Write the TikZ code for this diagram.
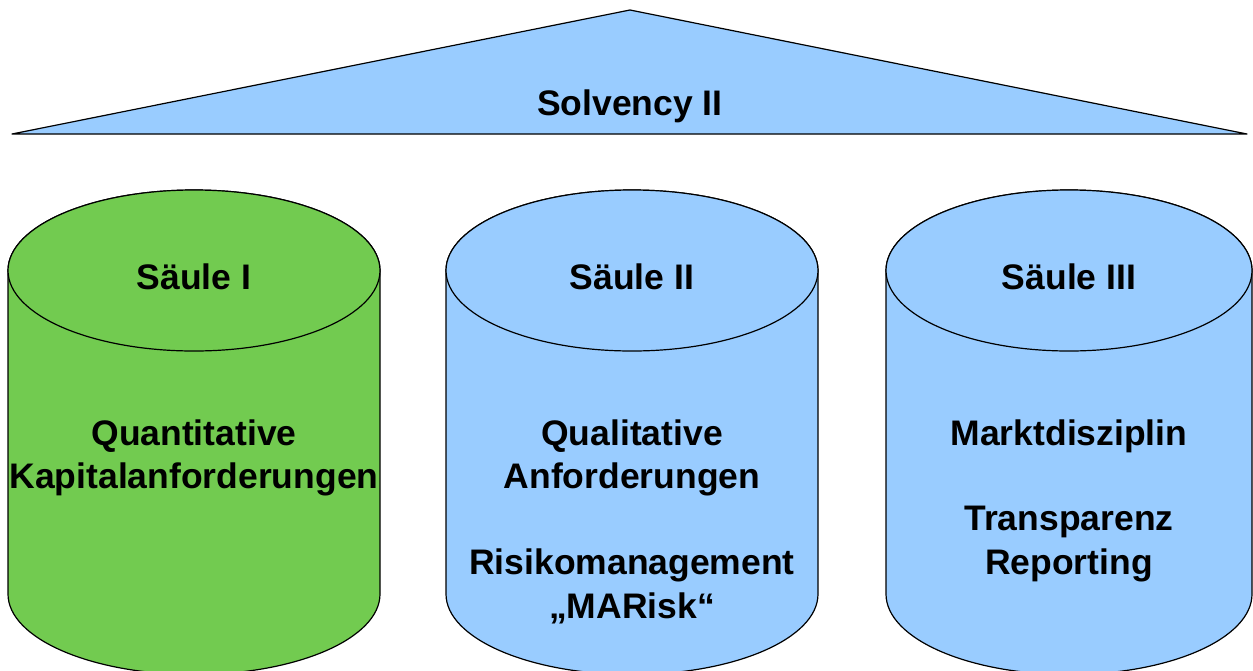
\documentclass[tikz,border=0pt]{standalone}
\usepackage{fontspec}
\setmainfont{Liberation Sans}
\definecolor{pillargreen}{RGB}{114,203,80}
\definecolor{pillarblue}{RGB}{153,204,255}
\tikzset{
  outline/.style={draw=black, line width=1.2pt, line join=round},
  label/.style={font=\fontsize{35.5}{43}\selectfont\bfseries, align=center, inner sep=0pt, text=black},
}
% draws a pillar: centre x, half width, top ellipse y, bottom ellipse y, vertical radius, fill colour
\newcommand{\pillar}[6]{%
  \filldraw[outline, fill=#6]
    ({#1-#2},#3) -- ({#1-#2},#4)
    arc[start angle=180, end angle=360, x radius=#2, y radius=#5]
    -- ({#1+#2},#3)
    arc[start angle=0, end angle=180, x radius=#2, y radius=#5] -- cycle;
  \filldraw[outline, fill=#6] (#1,#3) ellipse[x radius=#2, y radius=#5];
}
\begin{document}
\begin{tikzpicture}[x=1pt, y=1pt]
  \useasboundingbox (0,0) rectangle (1253,-670);
  \clip (0,0) rectangle (1253,-670);

  % roof
  \coordinate (roofL) at (12,-134);
  \coordinate (roofT) at (630,-10);
  \coordinate (roofR) at (1247,-134);
  \filldraw[outline, fill=pillarblue] (roofL) -- (roofT) -- (roofR) -- cycle;
  \node[label] (roof) at (630,-106) {Solvency II};

  % pillars
  \pillar{194}{186}{-270.5}{-594}{80.5}{pillargreen}
  \pillar{632}{186}{-270.5}{-594}{80.5}{pillarblue}
  \pillar{1069}{183}{-270.5}{-594}{80.5}{pillarblue}

  % pillar I
  \node[label] (p1head) at (194,-277) {Säule I};
  \node[label] (p1a) at (194,-436) {Quantitative};
  \node[label] (p1b) at (194,-479) {Kapitalanforderungen};

  % pillar II
  \node[label] (p2head) at (632,-277) {Säule II};
  \node[label] (p2a) at (632,-436) {Qualitative};
  \node[label] (p2b) at (632,-479) {Anforderungen};
  \node[label] (p2c) at (632,-565) {Risikomanagement};
  \node[label] (p2d) at (632,-608) {„MARisk“};

  % pillar III
  \node[label] (p3head) at (1069,-277) {Säule III};
  \node[label] (p3a) at (1069,-436) {Marktdisziplin};
  \node[label] (p3b) at (1069,-522) {Transparenz};
  \node[label] (p3c) at (1069,-565) {Reporting};
\end{tikzpicture}
\end{document}
